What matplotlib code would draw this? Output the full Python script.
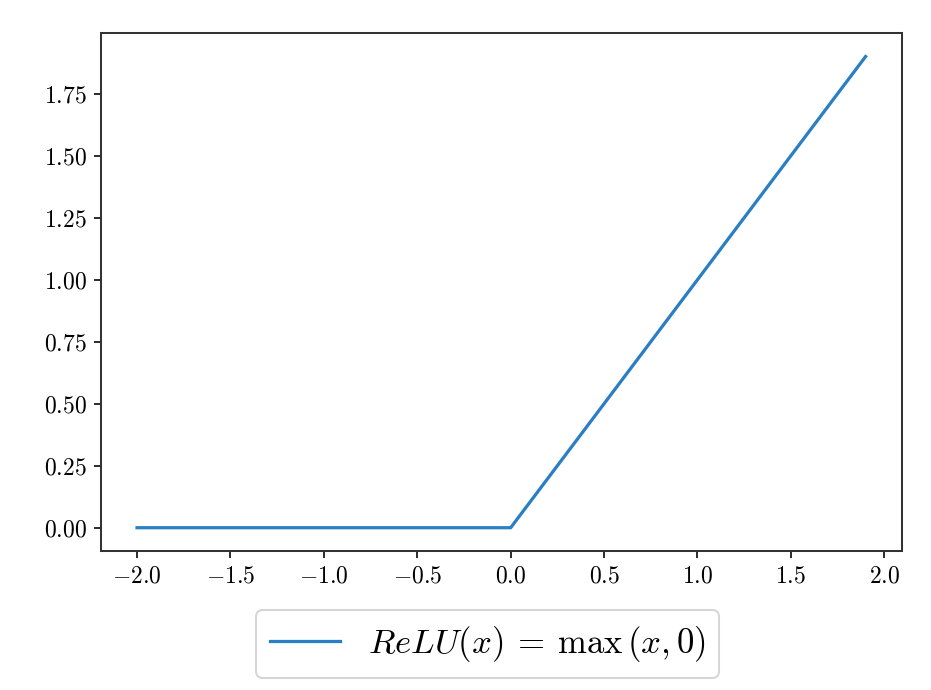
import matplotlib
matplotlib.use('Agg')
import matplotlib.pyplot as plt

# ReLU breakpoints
x_vals = [-2.0, 0.0, 1.9]
y_vals = [0.0, 0.0, 1.9]
label = r'$ReLU(x)\:=\:\max\,(x, 0)$'

plt.rcParams['font.family'] = 'serif'
plt.rcParams['font.serif'] = ['cmr10']
plt.rcParams['mathtext.fontset'] = 'cm'
plt.rcParams['axes.formatter.use_mathtext'] = True
plt.rcParams['font.size'] = 11.7

fig = plt.figure(figsize=(6.4, 4.74), dpi=145.6)
ax = fig.add_axes([0.108, 0.201, 0.86, 0.751])

ax.plot(x_vals, y_vals, color='#2a7fc4', linewidth=1.6, label=label)

ax.set_xticks([-2.0, -1.5, -1.0, -0.5, 0.0, 0.5, 1.0, 1.5, 2.0])
ax.set_yticks([0.0, 0.25, 0.5, 0.75, 1.0, 1.25, 1.5, 1.75])
for s in ax.spines.values():
    s.set_color('#333333')
    s.set_linewidth(1.0)

ax.legend(loc='upper center', bbox_to_anchor=(0.483, -0.08), fontsize=17.2)

fig.savefig('out.png', dpi=145.6)
plt.close(fig)
